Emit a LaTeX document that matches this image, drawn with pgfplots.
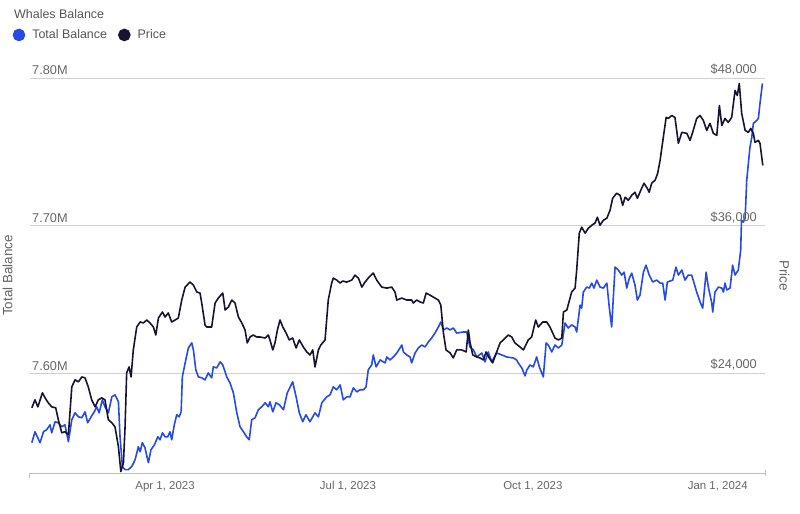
\documentclass[border=0pt]{standalone}
\usepackage{fontspec}
\setmainfont{Liberation Sans}
\usepackage{pgfplots}
\usepackage{pgfplotstable}
\pgfplotsset{compat=1.18}
\definecolor{balblue}{RGB}{38,74,228}
\definecolor{pricedark}{RGB}{24,20,48}
\definecolor{txtgray}{RGB}{102,102,102}
\definecolor{titlegray}{RGB}{85,85,85}
\definecolor{gridgray}{RGB}{208,208,208}
\definecolor{axisgray}{RGB}{190,190,190}

% x = days since Apr 1, 2023 ; p = price in USD
\pgfplotstableread{
d p
-66.3 21230
-64.7 21880
-63.3 21310
-61.0 22450
-59.7 22040
-58.1 21640
-56.4 21310
-54.4 21230
-53.1 20260
-51.4 19210
-49.8 19290
-48.1 19040
-46.4 22930
-44.8 23500
-43.1 23340
-41.4 23740
-39.8 23660
-38.2 22930
-36.5 21880
-34.8 21310
-33.2 21880
-31.5 22040
-29.9 21880
-28.2 20260
-26.5 20020
-24.9 19690
-23.2 18070
-22.0 16050
-20.7 16780
-19.9 19690
-19.1 24070
-17.9 24550
-16.9 23740
-15.8 25930
-14.1 27790
-12.4 28200
-10.8 28120
-9.1 28360
-7.5 28120
-5.8 27790
-4.6 27140
-3.3 28520
-1.3 29010
0 28600
1.6 28930
3.3 28200
5.0 28360
6.6 28520
8.3 29980
10.0 31030
12.4 31440
14.1 31190
15.8 30630
17.4 30550
18.4 29570
19.9 27950
20.7 27790
23.2 27790
24.9 29740
26.5 30140
28.7 30550
29.9 29170
31.5 29410
33.2 29980
34.8 29740
36.5 28600
38.2 28120
39.8 27550
40.9 26500
42.3 26980
43.9 27140
45.6 26980
47.3 26980
49.8 26900
51.4 27140
52.2 26740
53.6 25930
54.7 26500
55.9 27550
57.2 28360
58.6 27790
60.2 27310
61.8 26740
63.5 26900
65.2 26090
66.8 26740
68.8 26170
70.5 25770
72.1 25520
73.5 25930
74.6 24550
76.3 25930
77.5 26330
79.6 26740
81.2 29980
82.9 31360
83.7 31760
85.4 31600
87.1 31360
88.4 31520
90.4 31440
92.9 31600
94.5 32000
96.2 31760
97.9 31030
99.5 31440
101.1 31760
103.6 32170
105.3 31600
107.8 31030
110.3 30950
112.8 31030
114.4 30630
115.3 29980
117.8 30140
120.2 29980
122.7 29980
123.5 29740
125.2 29980
126.9 29820
128.5 29740
129.9 30550
131.8 30380
134.3 30140
136.0 29980
137.2 29570
138.5 27310
139.8 25930
141.8 25690
143.4 25280
145.1 25930
147.6 25930
149.8 25770
150.9 27550
151.7 26580
153.1 25520
155.1 25360
156.7 25280
158.4 25120
159.7 25770
161.3 25280
163.0 24880
165.0 25770
166.7 26500
168.3 26740
170.8 27140
172.5 26980
174.1 26500
176.6 26170
178.3 25930
180.7 26740
182.4 26980
184.4 28360
185.7 27790
187.9 28200
189.9 28200
191.5 27790
194.0 26900
195.7 26740
197.4 26900
198.2 29010
199.9 29170
202.3 30630
204.0 30950
204.8 32410
206.1 35410
207.3 35890
209.0 35410
210.6 35810
212.3 36050
213.9 36220
215.1 36700
216.4 36050
218.1 36460
219.8 36620
221.4 37270
222.7 38240
224.7 38650
226.4 38480
227.7 37670
228.9 38320
230.5 38080
232.2 38480
233.8 38730
235.0 38240
236.7 38890
238.3 39460
239.9 39050
240.9 38730
242.1 39460
243.8 39700
245.1 40270
246.3 41320
247.9 43180
249.3 44800
250.4 44720
252.1 44960
253.7 44800
255.4 42700
257.1 43590
259.6 43510
261.2 42940
262.8 43750
264.5 44720
266.2 44960
267.8 44560
269.5 43750
271.1 44320
272.8 43510
274.5 43340
275.8 45770
277.0 44150
278.6 44720
280.2 44400
281.9 44800
283.6 46990
284.7 46580
285.7 47560
286.9 45130
288.6 43750
290.2 43590
291.4 43910
292.7 43510
293.5 42780
295.2 42940
296.0 42700
297.4 40910
}\pricetable

% x = days since Apr 1, 2023 ; b = whales total balance in millions
\pgfplotstableread{
d b
-66.3 7.5533
-64.7 7.5607
-62.2 7.5533
-60.5 7.5607
-58.9 7.5621
-57.2 7.5654
-56.4 7.5600
-54.7 7.5675
-53.1 7.5668
-51.4 7.5641
-49.8 7.5654
-48.1 7.5540
-46.4 7.5688
-44.8 7.5735
-43.1 7.5708
-41.4 7.5702
-39.8 7.5742
-38.5 7.5668
-36.8 7.5708
-35.2 7.5742
-34.0 7.5776
-32.8 7.5735
-31.2 7.5823
-29.9 7.5776
-28.2 7.5735
-26.5 7.5843
-24.9 7.5857
-23.2 7.5810
-22.4 7.5573
-21.2 7.5371
-19.9 7.5351
-18.3 7.5351
-16.6 7.5371
-14.9 7.5418
-13.3 7.5506
-12.4 7.5472
-11.3 7.5533
-10.0 7.5499
-8.3 7.5398
-7.0 7.5486
-5.3 7.5519
-3.6 7.5573
-2.5 7.5553
-1.3 7.5600
0 7.5573
1.3 7.5573
2.5 7.5607
3.3 7.5553
4.6 7.5654
5.8 7.5722
7.0 7.5708
8.0 7.5742
8.6 7.5978
10.0 7.6073
11.6 7.6174
13.3 7.6208
14.1 7.6161
15.3 7.6026
16.6 7.5978
18.3 7.5972
19.9 7.5958
21.5 7.6005
23.2 7.5972
24.0 7.6046
25.7 7.6039
27.4 7.6080
28.7 7.6059
30.7 7.5978
32.3 7.5938
34.0 7.5870
35.7 7.5735
37.3 7.5641
39.0 7.5607
40.6 7.5573
41.9 7.5553
43.1 7.5688
44.8 7.5702
46.4 7.5756
48.1 7.5776
49.8 7.5803
51.4 7.5776
52.2 7.5810
53.6 7.5742
55.2 7.5803
56.9 7.5789
58.9 7.5756
60.8 7.5870
63.5 7.5945
65.2 7.5843
66.8 7.5735
68.5 7.5675
70.1 7.5722
72.1 7.5675
74.6 7.5735
76.3 7.5708
78.0 7.5803
80.4 7.5843
82.1 7.5857
83.7 7.5911
85.4 7.5891
87.1 7.5924
88.7 7.5823
90.4 7.5843
92.0 7.5843
93.7 7.5904
95.4 7.5877
97.0 7.5891
98.7 7.5891
100.0 7.5911
101.1 7.6026
102.8 7.6059
103.6 7.6127
105.0 7.6046
107.0 7.6093
109.5 7.6073
110.3 7.6113
111.9 7.6093
113.6 7.6113
115.3 7.6140
116.9 7.6174
117.8 7.6194
118.6 7.6147
120.2 7.6127
121.9 7.6113
122.7 7.6073
124.4 7.6140
126.0 7.6174
127.7 7.6194
129.4 7.6181
131.0 7.6215
132.7 7.6242
134.3 7.6275
136.0 7.6316
137.2 7.6350
138.5 7.6296
140.2 7.6309
141.8 7.6296
143.4 7.6309
145.1 7.6275
148.4 7.6282
150.1 7.6282
151.7 7.6181
153.4 7.6161
155.1 7.6113
157.6 7.6140
159.2 7.6080
160.8 7.6147
162.5 7.6080
165.0 7.6140
167.5 7.6127
170.0 7.6113
173.3 7.6106
174.9 7.6093
175.7 7.6073
177.5 7.6039
179.1 7.5985
180.0 7.6026
181.6 7.6059
183.2 7.6046
184.9 7.6113
186.2 7.6046
188.2 7.5978
189.6 7.6208
190.7 7.6194
192.4 7.6147
194.0 7.6194
195.7 7.6174
197.4 7.6194
199.0 7.6343
200.6 7.6309
202.3 7.6330
204.0 7.6316
204.8 7.6282
206.5 7.6464
207.3 7.6444
208.1 7.6552
209.8 7.6586
211.1 7.6579
212.3 7.6613
213.4 7.6579
214.8 7.6633
216.4 7.6586
218.1 7.6579
219.8 7.6613
221.0 7.6451
222.2 7.6316
223.9 7.6721
225.5 7.6701
227.2 7.6667
228.4 7.6687
229.7 7.6579
231.0 7.6647
232.2 7.6680
233.8 7.6599
235.0 7.6498
236.3 7.6532
238.0 7.6687
239.3 7.6734
240.9 7.6667
242.6 7.6620
244.6 7.6633
246.3 7.6613
247.6 7.6613
248.8 7.6498
249.9 7.6620
252.6 7.6633
254.2 7.6721
255.4 7.6667
257.1 7.6701
258.7 7.6633
260.3 7.6667
262.0 7.6667
263.2 7.6613
264.5 7.6552
266.2 7.6485
267.5 7.6444
269.2 7.6687
270.3 7.6586
272.0 7.6478
272.5 7.6417
273.6 7.6552
275.3 7.6586
277.0 7.6579
277.8 7.6552
278.6 7.6613
279.5 7.6566
281.1 7.6579
282.4 7.6734
283.6 7.6667
285.2 7.6701
286.4 7.6836
286.8 7.7038
287.7 7.7025
288.6 7.7052
289.4 7.7308
291.0 7.7531
291.9 7.7598
292.7 7.7693
294.4 7.7713
295.2 7.7727
296.0 7.7828
297.2 7.7963
}\balancetable

\begin{document}
\begin{tikzpicture}
\begin{axis}[
  scale only axis, width=735bp, height=395bp,
  xmin=-67.2, xmax=298.5, ymin=7.5328, ymax=7.80,
  axis line style={draw=none},
  tick style={draw=none},
  major tick length=0pt,
  xtick={0,91,183,275},
  xticklabels={{Apr 1, 2023},{Jul 1, 2023},{Oct 1, 2023},{Jan 1, 2024}},
  ytick={7.6,7.7,7.8},
  yticklabels={7.60M,7.70M,7.80M},
  ymajorgrids,
  grid style={gridgray, line width=0.9bp},
  yticklabel style={anchor=south west, inner sep=0pt, xshift=2bp, yshift=3bp,
    font=\fontsize{12.8}{14}\selectfont, text=txtgray},
  xticklabel style={font=\fontsize{11.5}{13}\selectfont, text=txtgray, yshift=-5bp},
  every axis y label/.style={at={(axis description cs:-0.019,0.5)}, rotate=90, anchor=south,
    font=\fontsize{13.5}{15}\selectfont, text=txtgray},
  ylabel={Total Balance},
  clip=false,
  legend style={at={(axis description cs:-0.0238,1.109)}, anchor=west, draw=none, fill=none,
    legend columns=-1, inner sep=0pt, font=\fontsize{12.5}{14}\selectfont, text=titlegray,
    /tikz/every even column/.append style={column sep=9bp}},
  legend cell align=left,
  legend image code/.code={\fill (0bp,0bp) circle (5.5bp); \path (10.5bp,0bp);},
]
\draw[axisgray, line width=1bp] (axis description cs:0,0) -- (axis description cs:1,0);
\draw[axisgray, line width=1bp] (axis description cs:0,0) -- ++(0bp,-5bp);
\draw[axisgray, line width=1bp] (axis description cs:1,0) -- ++(0bp,3bp) -- ++(0bp,-6bp);
\addplot[color=balblue, line width=1.6bp, line join=round] table[x=d, y=b] {\balancetable};
\addlegendentry{Total Balance}
\addlegendimage{color=pricedark, line width=1.6bp}
\addlegendentry{Price}
\node[anchor=west, inner sep=0pt, font=\fontsize{12.5}{14}\selectfont, text=titlegray]
  at (axis description cs:-0.0218,1.162) {Whales Balance};
\coordinate (bbsw) at (axis description cs:-0.0408,-0.1013);
\coordinate (bbne) at (axis description cs:1.0476,1.1975);
\end{axis}
\begin{axis}[
  scale only axis, width=735bp, height=395bp,
  xmin=-67.2, xmax=298.5, ymin=15940, ymax=48000,
  axis line style={draw=none},
  tick style={draw=none},
  major tick length=0pt,
  xtick=\empty,
  ytick={24000,36000,48000},
  scaled y ticks=false,
  yticklabels={{\$24,000},{\$36,000},{\$48,000}},
  yticklabel pos=right,
  yticklabel style={anchor=south east, inner sep=0pt, xshift=-8bp, yshift=3bp,
    font=\fontsize{12.8}{14}\selectfont, text=txtgray},
  every axis y label/.style={at={(axis description cs:1.015,0.5)}, rotate=-90, anchor=south,
    font=\fontsize{13.5}{15}\selectfont, text=txtgray},
  ylabel={Price},
  clip=false,
]
\addplot[color=pricedark, line width=1.6bp, line join=round] table[x=d, y=p] {\pricetable};
\end{axis}
\pgfresetboundingbox
\path (bbsw) rectangle (bbne);
\end{tikzpicture}
\end{document}
